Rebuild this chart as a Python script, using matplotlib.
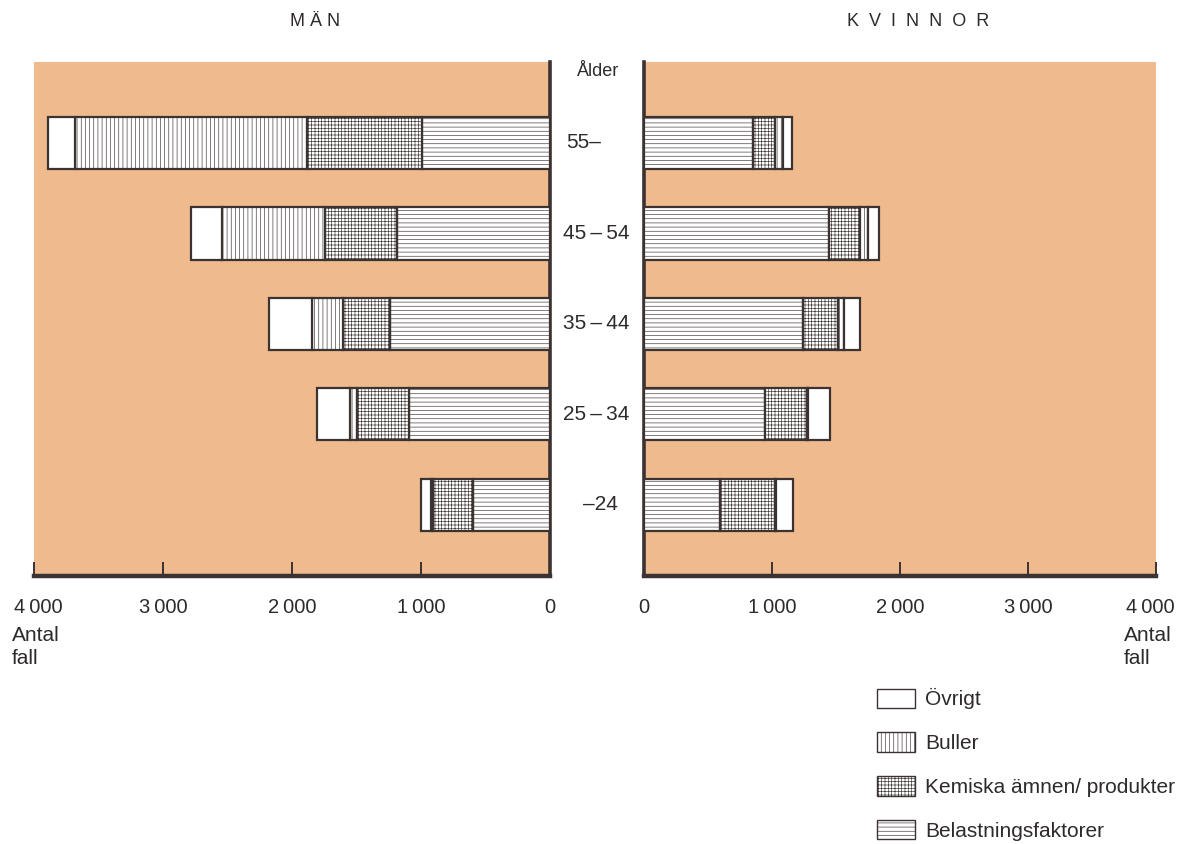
import matplotlib
matplotlib.use("Agg")
import matplotlib.pyplot as plt
from matplotlib.patches import Patch
from matplotlib.transforms import ScaledTranslation
import numpy as np

plt.rcParams.update({
    "font.family": ["Liberation Sans", "DejaVu Sans"],
    "hatch.linewidth": 0.45,
})

# age groups, top to bottom
ages = ["55–", "45\u2009–\u200954", "35\u2009–\u200944", "25\u2009–\u200934", "–24"]

# men (antal fall), stacked from the centre outwards
man_belast = [992, 1186, 1240, 1093, 597]
man_kemi = [892, 558, 365, 403, 310]
man_buller = [1798, 799, 240, 54, 15]
man_ovrigt = [210, 240, 333, 256, 77]

# women
kv_belast = [852, 1445, 1242, 945, 594]
kv_kemi = [171, 243, 274, 328, 429]
kv_buller = [63, 62, 47, 10, 5]
kv_ovrigt = [70, 86, 125, 172, 133]

tick_vals = [0, 1000, 2000, 3000, 4000]
tick_labels = ["0", "1\u2009000", "2\u2009000", "3\u2009000", "4\u2009000"]

categories = ["Belastningsfaktorer", "Kemiska ämnen/ produkter", "Buller", "Övrigt"]
hatches = ["----", "+++++", "||||", ""]

ORANGE = "#EFBA8D"
EDGE = "#3b3232"
TXT = "#2e2a2a"

W, H = 1179, 844
fig = plt.figure(figsize=(W / 100, H / 100), dpi=100)


def box(x0, y0, x1, y1):
    # pixel box (top-left origin) -> figure fraction rect
    return [x0 / W, 1 - y1 / H, (x1 - x0) / W, (y1 - y0) / H]


axL = fig.add_axes(box(34, 62, 550, 576))
axR = fig.add_axes(box(644, 62, 1156, 576))

y = np.arange(len(ages))
for ax, series in [(axL, [man_belast, man_kemi, man_buller, man_ovrigt]),
                   (axR, [kv_belast, kv_kemi, kv_buller, kv_ovrigt])]:
    left = np.zeros(len(ages))
    for vals, hat in zip(series, hatches):
        vals = np.array(vals, dtype=float)
        ax.barh(y, vals, left=left, height=0.575, color="white",
                edgecolor=EDGE, hatch=hat, linewidth=1.6, zorder=3)
        left += vals
    ax.set_facecolor(ORANGE)
    ax.set_ylim(4.785, -0.895)
    ax.set_yticks([])
    ax.set_xticks(tick_vals)
    ax.set_xticklabels(tick_labels, fontsize=14.5, color=TXT)
    ax.tick_params(axis="x", direction="in", length=10, width=1.4,
                   color=EDGE, pad=16)
    ax.spines["top"].set_visible(False)
    ax.spines["bottom"].set_linewidth(3.2)
    ax.spines["bottom"].set_color(EDGE)

axL.set_xlim(4000, 0)
axL.spines["left"].set_visible(False)
axL.spines["right"].set_linewidth(2.6)
axL.spines["right"].set_color(EDGE)

axR.set_xlim(0, 4000)
axR.spines["right"].set_visible(False)
axR.spines["left"].set_linewidth(2.6)
axR.spines["left"].set_color(EDGE)

# nudge the outer 4 000 labels inwards so they stay on the page
last = axR.get_xticklabels()[-1]
last.set_transform(last.get_transform() + ScaledTranslation(-6 / 100, 0, fig.dpi_scale_trans))
first = axL.get_xticklabels()[-1]
first.set_transform(first.get_transform() + ScaledTranslation(4 / 100, 0, fig.dpi_scale_trans))

# headings
fig.text(315 / W, 1 - 22 / H, "M Ä N", fontsize=13, color=TXT,
         ha="center", va="center")
fig.text(918 / W, 1 - 22 / H, "K  V  I  N  N  O  R", fontsize=13, color=TXT,
         ha="center", va="center")
fig.text(598 / W, 1 - 71 / H, "Ålder", fontsize=13, color=TXT,
         ha="center", va="center")

# age labels in the centre column, aligned with the bars
for i, lab in enumerate(ages):
    yy = axL.transData.transform((0, i))[1] / H
    if lab.endswith("–"):
        fig.text(601 / W, yy, lab, fontsize=15, color=TXT, ha="right", va="center")
    elif lab.startswith("–"):
        fig.text(583 / W, yy, lab, fontsize=15, color=TXT, ha="left", va="center")
    else:
        fig.text(596 / W, yy, lab, fontsize=15, color=TXT, ha="center", va="center")

# axis unit labels
fig.text(12 / W, 1 - 626 / H, "Antal\nfall", fontsize=15, color=TXT,
         ha="left", va="top", linespacing=1.3)
fig.text(1124 / W, 1 - 626 / H, "Antal\nfall", fontsize=15, color=TXT,
         ha="left", va="top", linespacing=1.3)

# legend
handles = [Patch(facecolor="white", edgecolor=EDGE, hatch=h, linewidth=1.0)
           for h in hatches[::-1]]
fig.legend(handles, categories[::-1], loc="upper left",
           bbox_to_anchor=(867 / W, 1 - 678 / H), frameon=False,
           fontsize=15, handlelength=1.8, handleheight=1.06,
           labelspacing=1.1, handletextpad=0.5, borderpad=0, labelcolor=TXT)

fig.savefig("out.png", dpi=100)
